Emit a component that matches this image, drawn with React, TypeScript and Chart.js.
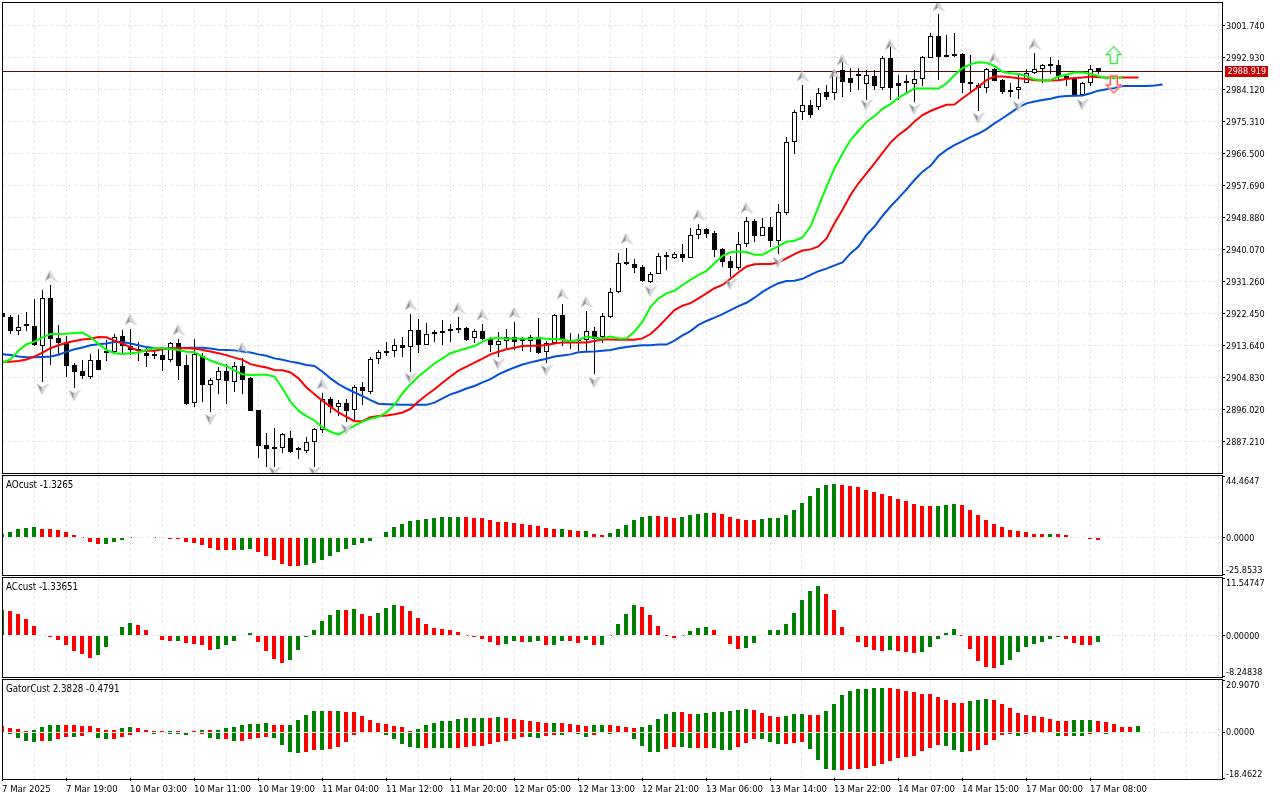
import React, { useEffect, useRef } from "react";
import { Chart, registerables } from "chart.js";

Chart.register(...registerables);

const opens = [
2922.5,2921.4,2917.7,2919.0,2919.0,2913.6,2926.6,2915.6,2914.2,2908.2,
2906.5,2905.1,2909.6,2911.9,2911.8,2916.2,2913.6,2912.2,2911.5,2910.8,
2910.9,2909.7,2914.2,2908.2,2897.7,2910.8,2902.9,2904.1,2906.5,2903.5,
2908.0,2904.6,2895.8,2886.2,2885.3,2885.3,2888.1,2884.9,2884.7,2887.2,
2890.4,2898.8,2896.8,2897.7,2895.8,2902.1,2900.9,2909.8,2912.0,2912.0,
2913.7,2913.1,2917.8,2913.9,2916.7,2917.5,2917.5,2918.4,2918.4,2915.6,
2917.5,2915.3,2913.9,2914.8,2916.1,2914.9,2914.8,2916.1,2911.8,2914.4,
2922.0,2915.1,2914.9,2915.2,2917.5,2915.9,2921.6,2928.3,2936.0,2936.0,
2935.3,2931.2,2933.4,2938.1,2937.8,2938.7,2937.8,2944.2,2945.6,2944.5,
2940.2,2936.8,2935.1,2941.5,2947.8,2943.9,2946.2,2942.5,2950.2,2969.8,
2977.9,2979.9,2979.3,2983.4,2983.1,2989.5,2987.3,2987.8,2985.6,2987.8,
2984.5,2992.8,2985.9,2986.5,2985.5,2986.9,2992.9,2998.9,2993.5,2993.8,
2993.8,2985.8,2985.3,2984.4,2989.8,2986.7,2983.3,2983.9,2985.8,2988.8,
2989.9,2990.7,2990.8,2987.7,2986.9,2982.5,2985.8,2990.0];

const highs = [
2922.5,2922.1,2922.1,2923.0,2926.4,2928.9,2930.3,2919.3,2916.3,2908.9,
2909.6,2911.3,2912.6,2915.2,2916.8,2917.9,2918.2,2914.7,2912.9,2912.2,
2912.9,2914.5,2915.5,2911.0,2915.4,2911.5,2904.7,2907.6,2908.5,2909.2,
2910.1,2905.1,2895.9,2889.5,2890.8,2889.6,2890.0,2885.6,2888.5,2890.8,
2900.5,2899.6,2898.6,2898.8,2902.8,2903.7,2910.4,2912.4,2914.5,2915.4,
2915.9,2922.3,2920.8,2919.7,2917.9,2920.7,2919.5,2921.4,2918.8,2918.1,
2919.6,2915.9,2917.4,2918.1,2920.1,2916.1,2916.5,2921.2,2914.8,2922.2,
2925.2,2917.2,2916.8,2923.1,2918.8,2922.5,2929.4,2939.0,2940.6,2937.4,
2935.8,2933.9,2939.1,2939.3,2939.5,2941.6,2946.0,2947.0,2946.1,2945.1,
2940.5,2938.3,2944.9,2948.9,2948.6,2948.7,2948.9,2952.5,2971.1,2978.5,
2985.4,2981.2,2984.5,2985.4,2989.5,2992.8,2990.0,2990.0,2989.5,2989.5,
2993.3,2997.2,2988.1,2988.1,2989.5,2993.3,2999.6,3004.9,2999.1,2999.6,
2994.1,2993.6,2985.8,2990.0,2990.0,2986.9,2986.0,2988.6,2989.8,2994.3,
2991.1,2993.2,2992.2,2988.4,2987.2,2986.2,2990.8,2990.0];

const lows = [
2921.4,2916.8,2916.5,2917.7,2913.5,2903.6,2908.3,2911.3,2905.1,2902.0,
2904.4,2904.5,2907.0,2909.4,2911.5,2911.7,2911.0,2909.5,2907.8,2909.8,
2906.6,2909.2,2904.2,2897.3,2896.6,2898.1,2895.4,2900.3,2897.5,2900.8,
2900.3,2895.7,2882.8,2880.1,2880.1,2884.1,2884.0,2882.3,2884.0,2880.1,
2889.6,2895.0,2894.1,2892.7,2893.1,2897.3,2900.3,2908.5,2910.7,2910.5,
2910.4,2906.3,2911.7,2913.9,2914.7,2913.8,2914.7,2917.2,2914.9,2914.2,
2915.2,2911.9,2910.4,2912.9,2912.4,2912.2,2911.9,2911.3,2908.7,2914.2,
2913.5,2912.6,2912.2,2911.9,2905.8,2914.2,2921.3,2928.0,2935.8,2933.7,
2931.0,2930.8,2933.4,2934.4,2937.5,2936.5,2937.6,2942.9,2943.3,2938.1,
2935.3,2932.6,2934.4,2940.8,2942.0,2943.9,2940.8,2938.8,2949.6,2966.3,
2975.7,2976.3,2978.5,2981.2,2981.2,2982.1,2983.4,2984.0,2981.2,2984.0,
2984.0,2981.2,2981.2,2983.1,2980.8,2985.1,2992.7,2986.6,2993.2,2993.2,
2983.2,2983.1,2978.3,2983.1,2986.4,2982.9,2982.1,2981.6,2985.8,2988.4,
2986.0,2988.3,2986.7,2985.1,2982.3,2982.3,2985.2,2988.4];

const closes = [
2921.4,2917.7,2918.6,2919.0,2913.7,2926.6,2915.5,2914.2,2908.1,2906.4,
2905.2,2909.6,2907.0,2911.7,2916.1,2913.6,2912.4,2912.1,2910.8,2910.7,
2909.7,2914.2,2908.1,2897.5,2911.2,2902.9,2904.1,2906.5,2903.8,2907.9,
2904.2,2895.7,2886.1,2885.2,2885.2,2889.2,2884.4,2884.9,2887.2,2890.6,
2898.8,2896.8,2897.7,2895.7,2902.1,2901.2,2909.8,2911.8,2911.7,2913.7,
2913.0,2917.8,2913.9,2916.7,2917.3,2917.2,2918.1,2918.0,2915.2,2917.5,
2915.3,2913.8,2914.8,2915.9,2914.7,2915.3,2915.9,2911.7,2914.4,2922.0,
2915.3,2914.5,2914.8,2917.5,2915.3,2921.9,2928.3,2936.3,2936.1,2935.1,
2931.4,2933.2,2938.2,2938.1,2938.7,2937.8,2944.2,2945.6,2944.4,2940.0,
2936.7,2935.1,2941.5,2947.8,2943.9,2946.2,2942.5,2950.3,2969.8,2977.9,
2979.9,2977.0,2983.1,2982.1,2988.9,2986.2,2985.9,2987.7,2988.1,2985.1,
2992.8,2984.5,2985.1,2985.8,2986.9,2993.1,2998.9,2993.2,2993.2,2993.3,
2985.8,2985.5,2984.4,2989.8,2986.5,2983.3,2983.9,2984.7,2988.8,2989.7,
2990.8,2990.7,2987.8,2986.9,2982.5,2985.8,2989.7,2988.9];

const jaw = [
2911.2,2911.0,2910.6,2910.4,2910.4,2910.5,2910.6,2911.1,2911.9,2912.6,
2913.1,2913.7,2914.0,2914.2,2914.6,2914.6,2914.2,2913.7,2913.2,2912.9,
2912.8,2912.8,2912.9,2913.0,2913.0,2913.0,2912.8,2912.5,2912.4,2912.3,
2912.0,2911.7,2911.2,2910.8,2910.1,2909.7,2909.2,2908.8,2908.3,2908.0,
2906.4,2904.6,2903.0,2901.8,2900.7,2899.7,2898.6,2897.6,2897.5,2897.4,
2897.3,2897.3,2897.3,2897.3,2897.9,2899.1,2900.2,2900.9,2901.8,2902.5,
2903.5,2904.4,2905.7,2906.7,2907.6,2908.4,2909.0,2909.5,2910.0,2910.6,
2910.9,2911.2,2911.8,2911.9,2912.0,2912.2,2912.4,2912.9,2913.2,2913.5,
2913.7,2913.7,2913.9,2913.9,2915.0,2916.4,2917.6,2919.3,2920.4,2921.3,
2922.3,2923.4,2924.5,2925.4,2926.8,2928.4,2929.7,2930.8,2931.4,2931.5,
2932.0,2933.1,2934.1,2934.8,2935.7,2936.5,2939.0,2940.9,2944.1,2946.4,
2949.3,2951.9,2954.2,2956.6,2959.2,2961.5,2963.1,2965.8,2967.5,2968.8,
2969.9,2971.0,2972.0,2973.2,2974.8,2976.2,2977.7,2979.2,2980.3,2980.8,
2981.2,2981.6,2982.1,2982.3,2982.4,2982.5,2983.1,2983.8,2984.2,2984.5,
2985.1,2985.1,2985.1,2985.1,2985.2,2985.5];

const teeth = [
2909.2,2909.2,2909.4,2909.8,2910.6,2911.7,2912.9,2913.7,2914.4,2914.9,
2915.3,2915.5,2916.0,2915.9,2915.0,2914.2,2913.1,2912.2,2912.2,2912.2,
2912.6,2912.8,2912.9,2912.9,2912.8,2912.4,2912.0,2911.5,2911.0,2910.3,
2909.7,2908.5,2908.0,2907.6,2906.9,2906.8,2906.2,2904.6,2902.1,2900.2,
2898.4,2896.8,2895.2,2894.0,2892.8,2892.8,2893.9,2894.2,2894.4,2894.7,
2895.2,2896.2,2898.2,2900.0,2901.6,2903.4,2905.1,2906.7,2907.8,2908.9,
2910.0,2911.2,2911.9,2912.6,2913.0,2913.5,2913.6,2913.6,2913.8,2914.2,
2914.5,2914.5,2914.5,2914.5,2914.9,2915.3,2915.3,2915.2,2915.3,2915.2,
2915.6,2916.8,2918.8,2921.1,2923.4,2924.6,2925.3,2926.6,2928.0,2929.4,
2930.3,2932.0,2933.8,2935.4,2936.0,2936.1,2936.1,2936.5,2937.6,2938.8,
2939.8,2940.1,2940.9,2943.1,2947.3,2951.0,2955.1,2958.3,2961.0,2963.8,
2966.7,2969.5,2971.6,2973.2,2975.3,2977.1,2978.2,2979.1,2979.9,2980.0,
2981.7,2983.3,2984.9,2986.7,2987.7,2987.7,2987.5,2987.2,2987.0,2986.7,
2986.6,2986.6,2986.7,2987.0,2987.3,2987.4,2987.7,2987.5,2987.4,2987.4,
2987.4,2987.4,2987.4];

const lips = [
2908.9,2909.8,2912.2,2914.0,2914.7,2915.9,2916.8,2916.8,2916.9,2917.1,
2917.2,2915.9,2914.1,2912.4,2911.5,2911.3,2911.5,2911.7,2912.4,2912.9,
2912.9,2912.6,2912.4,2911.9,2911.8,2910.6,2909.5,2908.7,2908.0,2906.7,
2905.7,2905.5,2905.6,2905.6,2905.1,2901.8,2898.2,2895.7,2894.2,2893.0,
2891.1,2889.9,2889.1,2890.4,2891.6,2892.7,2893.5,2894.0,2895.2,2897.3,
2900.5,2903.0,2905.1,2906.9,2908.7,2910.1,2911.5,2912.2,2912.9,2913.5,
2914.7,2915.6,2915.7,2915.6,2915.6,2915.5,2915.5,2915.7,2915.5,2915.4,
2915.3,2914.8,2915.2,2916.1,2915.8,2915.6,2916.1,2915.6,2915.6,2917.5,
2920.2,2924.3,2926.6,2928.0,2928.7,2930.3,2931.7,2933.1,2934.2,2936.3,
2938.3,2939.3,2939.5,2939.4,2938.6,2938.6,2939.8,2941.0,2942.2,2942.5,
2943.4,2946.4,2951.9,2957.4,2962.4,2966.5,2970.2,2972.7,2975.2,2976.8,
2978.8,2980.1,2981.8,2983.1,2984.4,2984.4,2984.4,2984.4,2985.8,2988.1,
2990.0,2991.1,2991.6,2991.5,2990.6,2989.0,2988.6,2988.4,2987.8,2986.9,
2986.7,2986.7,2987.7,2988.2,2988.8,2988.8,2988.4,2987.8,2987.2,2987.3,
2987.4];

const fractalUpIndex = [6,16,22,30,40,51,57,60,64,70,73,78,87,93,100,104,105,111,117,124,129];
const fractalUpPrice = [2932.8,2920.7,2917.9,2913.0,2903.0,2924.8,2924.0,2922.0,2922.6,2927.8,2925.6,2943.0,2949.6,2951.5,2987.8,2988.4,2992.2,2996.4,3007.1,2992.8,2996.6];
const fractalDownIndex = [5,9,26,34,39,43,51,62,68,74,81,91,97,108,114,122,127,135];
const fractalDownPrice = [2901.7,2900.0,2893.4,2878.8,2878.8,2890.7,2904.7,2908.6,2906.9,2903.6,2928.6,2930.6,2936.6,2979.9,2978.8,2976.3,2979.6,2980.1];
const signalIndex = [138.9, 138.9];
const signalPrice = [2993.6, 2985.5];

const lastPrice = 2988.919;
const lastPriceLabel = "2988.919";

const priceTicks = [3001.74,2992.93,2984.12,2975.31,2966.5,2957.69,2948.88,2940.07,2931.26,2922.45,2913.64,2904.83,2896.02,2887.21];

const aoValues = [
3.1,4.5,6.7,7.4,8.1,6.7,6.7,6.0,4.5,2.4,
0.2,-2.6,-4.1,-4.1,-2.6,-1.2,0.3,0.5,0.7,0.2,
-0.2,-0.7,-1.0,-2.6,-3.3,-4.8,-6.9,-8.4,-8.4,-8.4,
-8.4,-7.7,-9.8,-12.7,-15.6,-18.4,-19.9,-19.9,-19.1,-17.7,
-15.6,-12.7,-9.8,-7.7,-4.8,-3.3,-1.9,1.0,4.5,8.1,
10.3,12.4,13.2,13.9,14.6,15.3,15.3,15.3,15.2,14.6,
14.6,13.2,11.7,11.7,11.0,10.3,9.6,8.9,7.4,6.7,
6.7,6.0,5.3,5.3,3.1,2.4,3.8,6.7,9.6,13.2,
15.3,16.0,16.0,15.3,14.6,15.3,16.7,17.5,18.2,18.2,
17.5,15.3,13.9,13.2,13.2,13.9,14.6,14.6,16.7,20.3,
25.4,30.4,36.1,38.3,39.0,38.3,37.6,36.8,34.7,33.3,
31.8,30.4,28.2,26.8,24.6,23.2,23.2,23.2,23.9,24.6,
23.9,20.3,16.7,13.2,10.3,8.1,6.0,5.3,4.5,3.1,
3.1,3.1,3.1,2.4,1.0,0.5,-0.7,-1.3];
const aoColors =
"gggggrrrrr" + "rrrgggggrr" + "rrrrrrrrrr" + "ggrrrrrrgg" + "gggggggggg" + "ggggggggrr" + "rrrrrrrrrr" +
"grrgrrgggg" + "ggrrrggggr" + "rrrrrggggg" + "gggggrrrrr" + "rrrrrrrggg" + "rrrrrrrrrr" + "rgrrrrrr";

const acValues = [
5.1,4.9,4.3,3.3,1.9,-0.1,-0.3,-0.9,-2.0,-3.2,
-3.8,-4.6,-4.0,-2.4,-0.2,1.7,2.5,2.1,1.1,-0.1,
-0.9,-1.2,-1.2,-1.6,-1.8,-2.0,-3.0,-2.8,-2.0,-1.2,
-0.1,0.5,-1.4,-3.2,-4.8,-5.6,-5.0,-3.0,-0.3,1.1,
2.9,4.1,5.1,5.1,5.3,4.3,3.9,4.5,5.5,6.1,
5.9,4.9,3.5,2.3,1.5,1.3,1.1,0.7,-0.05,-0.3,
-0.8,-1.4,-2.0,-1.8,-1.2,-1.4,-1.4,-1.2,-2.0,-2.0,
-1.2,-1.2,-1.6,-1.0,-2.0,-2.0,-0.05,2.3,4.3,6.1,
5.7,4.1,1.9,-0.05,-0.6,-0.05,0.9,1.5,1.7,1.1,
-0.15,-1.8,-2.8,-2.6,-1.6,-0.1,1.1,1.1,2.3,4.5,
7.2,9.0,10.0,8.4,5.1,1.7,-0.2,-1.4,-2.4,-3.0,
-3.2,-3.0,-3.2,-3.4,-3.6,-3.4,-2.4,-0.8,0.5,1.3,
-0.05,-2.8,-5.2,-6.4,-6.6,-6.0,-5.0,-3.4,-2.4,-1.8,
-1.4,-0.8,-0.3,-0.8,-1.6,-2.0,-2.0,-1.4];
const acColors =
"grrrrrrrrr" + "rrgggggrrr" + "rrgrrrrggg" + "ggrrrrgggg" + "gggrgrrggg" + "rrrrrrrrrr" + "rrrggrggrg" +
"grrgrggggg" + "rrrrrggggr" + "rrrggggggg" + "gggrrrrrrr" + "rgrrrggggg" + "rrrrrggggg" + "gggrrrrg";

const gatorUp = [
2.3,1.6,1.2,0.4,0.8,2.0,2.8,2.8,2.8,2.8,
2.4,2.4,1.6,0.8,0.8,1.6,2.0,1.6,0.8,0.4,
0.4,0.4,0.4,0.2,0.4,0.8,0.8,0.8,1.6,2.0,
2.8,3.2,3.2,3.6,2.8,2.8,2.8,4.8,6.8,8.4,
8.4,8.4,8.4,8.0,8.0,6.4,4.8,3.6,3.2,2.4,
2.0,0.4,1.2,2.8,3.6,4.4,4.4,5.2,5.6,5.6,
5.6,5.6,6.0,5.6,5.2,4.8,4.4,4.0,3.6,3.6,
3.6,3.2,2.8,2.4,2.8,2.8,2.8,2.4,2.0,1.6,
2.0,2.8,5.2,7.2,8.0,8.0,7.2,7.2,7.6,8.0,
8.0,8.4,8.8,9.2,8.8,7.6,6.4,6.0,6.4,7.2,
7.2,6.8,6.8,8.4,11.2,14.9,16.5,17.3,17.3,17.7,
17.7,17.7,17.3,16.5,16.1,15.3,15.3,14.1,12.9,11.7,
11.7,12.5,12.9,13.3,12.9,11.3,9.7,7.7,6.9,6.5,
6.1,5.3,4.5,4.5,4.9,4.9,4.9,4.5,4.1,3.3,
2.1,2.1,2.5];
const gatorUpColors =
"rrrrggggrr" + "rrrrrggrrr" + "rgrrrgrggg" + "ggggrrgggg" + "grgrrrrrrr" + "rrgggggggg" + "grgrrrrrrg" +
"rrrrggrrrr" + "gggggrrggg" + "ggggrrrrgg" + "grrggggggg" + "grrrrrrrrr" + "rgggrrrrrr" + "rrrrgggrrr" + "rrg";

const gatorDown = [
-0.2,-0.8,-2.4,-3.6,-4.0,-3.6,-3.6,-2.8,-2.0,-2.0,
-1.6,-0.4,-2.4,-2.8,-2.8,-2.0,-1.2,-0.4,-0.4,-0.6,
-0.2,-0.6,-0.6,-1.2,-0.4,-0.6,-2.4,-2.8,-2.8,-3.6,
-3.6,-2.8,-2.4,-2.0,-2.4,-5.2,-8.0,-8.4,-8.0,-7.2,
-7.2,-6.8,-6.0,-4.0,-1.2,-0.4,-0.3,-0.4,-1.2,-2.8,
-4.8,-6.0,-6.4,-6.4,-6.4,-6.4,-6.4,-6.4,-6.0,-5.6,
-5.6,-4.8,-4.0,-3.6,-2.8,-2.0,-2.0,-2.4,-1.6,-1.2,
-1.2,-0.4,-0.8,-2.0,-1.2,-0.4,-0.8,-0.4,-0.4,-2.8,
-5.6,-8.0,-8.0,-6.8,-6.0,-6.0,-6.4,-6.4,-6.4,-6.4,
-7.2,-7.2,-6.0,-4.4,-2.8,-2.8,-4.0,-4.8,-4.8,-4.4,
-4.0,-6.8,-11.2,-14.8,-15.2,-15.1,-14.7,-14.7,-14.3,-13.5,
-12.7,-11.5,-10.3,-9.9,-9.5,-7.5,-6.3,-5.1,-5.5,-7.1,
-7.9,-7.5,-7.1,-5.1,-3.1,-1.1,-0.7,-1.5,-0.7,-0.3,
-0.1,-0.3,-1.5,-1.5,-1.5,-1.5,-0.7,-0.3,-0.7,-0.3,
-0.3,0,0];
const gatorDownColors =
"gggggrgrrg" + "rrggrrrrgg" + "rgggrrggrg" + "rrrrggggrr" + "grrrrrrrgg" + "gggrgggrrr" + "rrrrrrggrr" +
"grggrrgrgg" + "gggrrggrrg" + "ggrrrgggrr" + "rggggrrrrr" + "rrrrrrrrgg" + "grrrrrrgrr" + "rggrggrrgr" + "ggg";

const timeLabels = ["7 Mar 2025","7 Mar 19:00","10 Mar 03:00","10 Mar 11:00","10 Mar 19:00","11 Mar 04:00","11 Mar 12:00","11 Mar 20:00","12 Mar 05:00","12 Mar 13:00","12 Mar 21:00","13 Mar 06:00","13 Mar 14:00","13 Mar 22:00","14 Mar 07:00","14 Mar 15:00","17 Mar 00:00","17 Mar 08:00"];

// Chart.js centres a multi-line tick label on its tick, so padding it with empty
// lines is how a single label is nudged up or down (MetaTrader keeps the end labels inside the panel).
const LABEL_LINE = 2;
function nudged(text: string, px: number) {
  const blanks = new Array(Math.abs(px)).fill("");
  return px >= 0 ? [...blanks, text] : [text, ...blanks];
}

const aoAxis = { min: -25.8533, max: 44.4647, ticks: [44.4647, 0, -25.8533], text: ["44.4647", "0.0000", "-25.8533"] };
const acAxis = { min: -8.24838, max: 11.54747, ticks: [11.54747, 0, -8.24838], text: ["11.54747", "0.00000", "-8.24838"] };
const gatorAxis = { min: -18.4622, max: 20.907, ticks: [20.907, 0, -18.4622], text: ["20.9070", "0.0000", "-18.4622"] };
const panelLabels = (text: string[]) => [nudged(text[0], 6), nudged(text[1], 1), nudged(text[2], -3)];

const FONT = "'DejaVu Sans Condensed', 'DejaVu Sans', sans-serif";
const TICK_SIZE = 9;
const TEXT_SIZE = 9.5;
const GRID = "#e3e3e3";
const GREEN = "#008000";
const RED = "#ff0000";
const toColors = (s: string) => s.split("").map((c) => (c === "g" ? GREEN : RED));
const pts = (arr: number[]) => arr.map((y, x) => ({ x, y }));

function fractalSprite(up: boolean) {
  const c = document.createElement("canvas");
  c.width = 12;
  c.height = 12;
  const g = c.getContext("2d")!;
  if (!up) {
    g.translate(0, 12);
    g.scale(1, -1);
  }
  g.beginPath();
  g.moveTo(5.5, 0.5);
  g.lineTo(0.5, 11);
  g.lineTo(5.5, 7.5);
  g.closePath();
  g.fillStyle = "#868b90";
  g.fill();
  g.beginPath();
  g.moveTo(5.5, 0.5);
  g.lineTo(11.5, 11);
  g.lineTo(5.5, 7.5);
  g.closePath();
  g.fillStyle = "#d9dde2";
  g.fill();
  g.strokeStyle = "#bfc3c8";
  g.lineWidth = 0.6;
  g.beginPath();
  g.moveTo(5.5, 0.5);
  g.lineTo(11.5, 11);
  g.lineTo(5.5, 7.5);
  g.lineTo(0.5, 11);
  g.closePath();
  g.stroke();
  return c;
}

function signalSprite(up: boolean, outer: string, inner: string) {
  const c = document.createElement("canvas");
  c.width = 18;
  c.height = 20;
  const g = c.getContext("2d")!;
  if (!up) {
    g.translate(0, 20);
    g.scale(1, -1);
  }
  const path = () => {
    g.beginPath();
    g.moveTo(9, 1.5);
    g.lineTo(16.5, 9.5);
    g.lineTo(12.5, 9.5);
    g.lineTo(12.5, 18.5);
    g.lineTo(5.5, 18.5);
    g.lineTo(5.5, 9.5);
    g.lineTo(1.5, 9.5);
    g.closePath();
  };
  path();
  g.lineWidth = 2.2;
  g.strokeStyle = inner;
  g.stroke();
  path();
  g.lineWidth = 1;
  g.strokeStyle = outer;
  g.stroke();
  return c;
}

const snapBars = {
  id: "snapBars",
  afterDatasetUpdate(_c: any, args: any) {
    if (args.meta.type === "bar") {
      args.meta.data.forEach((el: any) => {
        el.y = Math.round(el.y);
        el.base = Math.round(el.base);
      });
    }
  },
};

const priceRow = (chart: any) => Math.floor(chart.scales.y.getPixelForValue(lastPrice) - 0.5) + 0.5;

const priceLine = {
  id: "priceLine",
  beforeDatasetsDraw(chart: any) {
    const { ctx, chartArea } = chart;
    const y = priceRow(chart);
    ctx.save();
    ctx.strokeStyle = "#5a0808";
    ctx.lineWidth = 1;
    ctx.beginPath();
    ctx.moveTo(chartArea.left, y);
    ctx.lineTo(chartArea.right, y);
    ctx.stroke();
    ctx.restore();
  },
};

function framePlugin(title: string | null, frameTop: number, frameBottom: number, price: boolean) {
  return {
    id: "frame",
    afterDraw(chart: any) {
      const { ctx, chartArea } = chart;
      ctx.save();
      ctx.strokeStyle = "#000";
      ctx.lineWidth = 1;
      ctx.strokeRect(chartArea.left + 0.5, frameTop + 0.5, chartArea.right - chartArea.left, frameBottom - frameTop);
      if (title) {
        ctx.font = "9.7px " + FONT;
        ctx.fillStyle = "#000";
        ctx.textBaseline = "middle";
        ctx.textAlign = "left";
        ctx.fillText(title, 6, frameTop + 10);
      }
      if (price) {
        const y = priceRow(chart);
        ctx.font = TICK_SIZE + "px " + FONT;
        ctx.fillStyle = "#c80000";
        ctx.fillRect(1225, y - 5.5, 43, 11);
        ctx.fillStyle = "#fff";
        ctx.textBaseline = "middle";
        ctx.textAlign = "left";
        ctx.fillText(lastPriceLabel, 1227.5, y + 0.5);
      }
      ctx.restore();
    },
  };
}

function xScale(xMin: number, showLabels: boolean) {
  const shift = -xMin;
  const tickValues: number[] = [];
  for (let k = 0; k <= 38; k++) tickValues.push(k * 4 - shift);
  const isLabelled = (v: number) => {
    const k = Math.round((v + shift) / 4);
    return k % 2 === 0 && k / 2 < timeLabels.length;
  };
  return {
    type: "linear",
    min: xMin,
    max: xMin + 152.5,
    offset: false,
    afterBuildTicks: (axis: any) => {
      axis.ticks = tickValues.map((value) => ({ value }));
    },
    afterFit: (axis: any) => {
      axis.paddingLeft = 0;
      axis.paddingRight = 0;
      axis.height = showLabels ? 22 : 0;
    },
    grid: {
      offset: false,
      color: GRID,
      lineWidth: 1,
      drawTicks: showLabels,
      tickLength: 3,
      tickColor: (ctx: any) => (ctx.tick && isLabelled(ctx.tick.value) ? "#000" : "rgba(0,0,0,0)"),
    },
    border: { display: false, dash: [3, 3] },
    ticks: {
      display: showLabels,
      autoSkip: false,
      maxRotation: 0,
      minRotation: 0,
      align: "start",
      padding: 3,
      color: "#000",
      font: { family: FONT, size: TEXT_SIZE },
      callback: (v: number) => {
        const k = Math.round((v + shift) / 4);
        return k % 2 === 0 ? timeLabels[k / 2] ?? "" : "";
      },
    },
  };
}

function yScale(min: number, max: number, ticks: number[], labels: any[], zeroOnly: boolean) {
  return {
    type: "linear",
    position: "right",
    min,
    max,
    afterBuildTicks: (axis: any) => {
      axis.ticks = ticks.map((value) => ({ value }));
    },
    afterFit: (axis: any) => {
      axis.width = 58;
      axis.paddingTop = 0;
      axis.paddingBottom = 0;
    },
    grid: {
      color: (ctx: any) => (!zeroOnly || (ctx.tick && ctx.tick.value === 0) ? GRID : "rgba(0,0,0,0)"),
      lineWidth: 1,
      tickLength: 3,
      tickColor: "#000",
      z: zeroOnly ? 1 : -1,
    },
    border: { display: false, dash: [3, 3] },
    ticks: {
      autoSkip: false,
      padding: 1,
      color: "#000",
      font: { family: FONT, size: TICK_SIZE, lineHeight: LABEL_LINE + "px" },
      callback: (_v: number, i: number) => labels[i],
    },
  };
}

function barSet(data: any[], color: any, thickness: number, order: number, extra: any = {}) {
  return {
    type: "bar",
    data,
    backgroundColor: color,
    barThickness: thickness,
    borderWidth: 0,
    inflateAmount: 0,
    grouped: false,
    order,
    ...extra,
  };
}

function lineSet(data: any[], color: string, order: number) {
  return {
    type: "line",
    data,
    borderColor: color,
    borderWidth: 2,
    pointRadius: 0,
    tension: 0,
    fill: false,
    order,
  };
}

function markerSet(xs: number[], ys: number[], sprite: any, order: number) {
  return {
    type: "line",
    data: xs.map((x, i) => ({ x, y: ys[i] })),
    showLine: false,
    pointStyle: sprite,
    pointRadius: 7,
    order,
  };
}

function baseOptions(scales: any, paddingTop: number, paddingBottom: number) {
  return {
    responsive: false,
    animation: false,
    devicePixelRatio: 1,
    layout: { autoPadding: false, padding: { left: 2, right: 0, top: paddingTop, bottom: paddingBottom } },
    plugins: { legend: { display: false }, tooltip: { enabled: false }, title: { display: false } },
    scales,
  };
}

export default function App() {
  const mainRef = useRef<HTMLCanvasElement>(null);
  const aoRef = useRef<HTMLCanvasElement>(null);
  const acRef = useRef<HTMLCanvasElement>(null);
  const gatorRef = useRef<HTMLCanvasElement>(null);

  useEffect(() => {
    const wicks = highs.map((h, x) => ({ x, y: [lows[x], h] }));
    const bodies = opens.map((o, x) => ({ x, y: [o, closes[x]] }));
    const bodyColors = opens.map((o, i) => (closes[i] > o ? "#ffffff" : "#000000"));

    const main = new Chart(mainRef.current!, {
      type: "bar",
      data: {
        datasets: [
          markerSet(signalIndex.slice(0, 1), signalPrice.slice(0, 1), signalSprite(true, "#2fe02f", "#c4f5c4"), 0),
          markerSet(signalIndex.slice(1), signalPrice.slice(1), signalSprite(false, "#ff3030", "#ffc8c8"), 0),
          markerSet(fractalUpIndex, fractalUpPrice, fractalSprite(true), 1),
          markerSet(fractalDownIndex, fractalDownPrice, fractalSprite(false), 1),
          lineSet(pts(lips), "#00ff00", 2),
          lineSet(pts(teeth), "#ff0000", 3),
          lineSet(pts(jaw), "#0050d8", 4),
          barSet(bodies, bodyColors, 5, 6, { borderWidth: 1, borderColor: "#000", borderSkipped: false, minBarLength: 2 }),
          barSet(wicks, "#000", 1, 7),
        ] as any,
      },
      options: baseOptions(
        {
          x: xScale(-0.0625, false),
          y: yScale(2878.54, 3008.21, priceTicks, priceTicks.map((v) => nudged(v.toFixed(3), 1)), false),
        },
        2,
        1
      ) as any,
      plugins: [snapBars, priceLine, framePlugin(null, 2, 473, true)] as any,
    });

    const histPanel = (canvas: HTMLCanvasElement, axis: any, datasets: any[], title: string, frameTop: number, frameBottom: number, showLabels: boolean, paddingBottom: number) =>
      new Chart(canvas, {
        type: "bar",
        data: { datasets } as any,
        options: baseOptions(
          { x: xScale(0, showLabels), y: yScale(axis.min, axis.max, axis.ticks, panelLabels(axis.text), true) },
          2,
          paddingBottom
        ) as any,
        plugins: [snapBars, framePlugin(title, frameTop, frameBottom, false)] as any,
      });

    const ao = histPanel(aoRef.current!, aoAxis, [barSet(pts(aoValues), toColors(aoColors), 4, 1)], "AOcust -1.3265", 1, 101, false, 2);
    const ac = histPanel(acRef.current!, acAxis, [barSet(pts(acValues), toColors(acColors), 4, 1)], "ACcust -1.33651", 1, 101, false, 2);
    const gator = histPanel(
      gatorRef.current!,
      gatorAxis,
      [barSet(pts(gatorUp), toColors(gatorUpColors), 4, 1), barSet(pts(gatorDown), toColors(gatorDownColors), 4, 2)],
      "GatorCust 2.3828 -0.4791",
      1,
      101,
      true,
      0
    );

    return () => {
      main.destroy();
      ao.destroy();
      ac.destroy();
      gator.destroy();
    };
  }, []);

  const abs = (top: number): React.CSSProperties => ({ position: "absolute", left: 0, top, display: "block" });
  return (
    <div style={{ position: "absolute", left: 0, top: 0, width: 1280, height: 800, background: "#fff", overflow: "hidden" }}>
      <canvas ref={mainRef} width={1280} height={474} style={abs(0)} />
      <canvas ref={aoRef} width={1280} height={102} style={abs(474)} />
      <canvas ref={acRef} width={1280} height={102} style={abs(576)} />
      <canvas ref={gatorRef} width={1280} height={122} style={abs(678)} />
    </div>
  );
}
